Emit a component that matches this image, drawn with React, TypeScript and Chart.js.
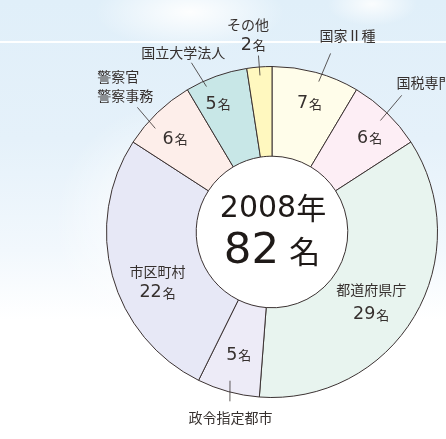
import React, { useEffect, useRef } from "react";
import { Chart, registerables } from "chart.js";

Chart.register(...registerables);

// ---- data ----
const categories = ["国家Ⅱ種", "国税専門官", "都道府県庁", "政令指定都市", "市区町村", "警察官\n警察事務", "国立大学法人", "その他"];
const values = [7, 6, 29, 5, 22, 6, 5, 2];
const yearLabel = "2008";
const totalLabel = "82";
const unit = "名";

// ---- style ----
const colors = ["#fffdea", "#fdeef5", "#e8f4ef", "#edebf7", "#e7e8f6", "#fdeeea", "#c8e7e7", "#fff8bf"];
const borderColor = "#3b3232";
const textColor = "#36302e";
const centerColor = "#1f1a18";
const CJK = '"Noto Sans CJK JP", sans-serif';
const NUM = '"DejaVu Sans", sans-serif';

// per-segment label layout (polar offsets relative to each arc's mid angle, radius in px at R=166)
type Item = { kind: "name" | "value"; r: number; da: number; dy?: number; align?: "center" | "left" };
type Layout = { items: Item[]; line?: [number, number, number, number] };
const layouts: Layout[] = [
  { items: [{ kind: "value", r: 136, da: 0.7 }, { kind: "name", r: 211, da: 5.7 }], line: [158, 1.9, 188.5, 2.8] },
  { items: [{ kind: "value", r: 137, da: 1.7 }, { kind: "name", r: 195, da: -4.1, align: "left" }], line: [156, 0.3, 189, -0.4] },
  { items: [{ kind: "name", r: 121, da: 4, dy: -11 }, { kind: "value", r: 121, da: 4, dy: 12 }] },
  { items: [{ kind: "value", r: 126, da: 0 }, { kind: "name", r: 191, da: -2.8 }], line: [155, 0.4, 175, -1.4] },
  { items: [{ kind: "name", r: 125, da: -8, dy: -9.5 }, { kind: "value", r: 125, da: -8, dy: 9.5 }] },
  { items: [{ kind: "value", r: 136, da: -1.7 }, { kind: "name", r: 228, da: -6.3, align: "left" }], line: [156.5, -4.5, 184, -3.3] },
  { items: [{ kind: "value", r: 141, da: -2.8 }, { kind: "name", r: 201, da: -6.5 }], line: [160, -4.5, 188, -5.7] },
  { items: [{ kind: "name", r: 209, da: -2.2 }, { kind: "value", r: 190, da: -1.3 }], line: [157.5, 0, 177.5, 0] },
];

function drawValue(ctx: CanvasRenderingContext2D, v: number, x: number, y: number) {
  const numFont = `17.5px ${NUM}`;
  const unitFont = `13px ${CJK}`;
  ctx.font = numFont;
  const w1 = ctx.measureText(String(v)).width;
  ctx.font = unitFont;
  const w2 = ctx.measureText(unit).width;
  const gap = 1;
  const x0 = x - (w1 + gap + w2) / 2;
  const base = y + 6.4;
  ctx.textAlign = "left";
  ctx.textBaseline = "alphabetic";
  ctx.font = numFont;
  ctx.fillText(String(v), x0, base);
  ctx.font = unitFont;
  ctx.fillText(unit, x0 + w1 + gap, base + 0.5);
}

const labelPlugin = {
  id: "labels",
  beforeDatasetsDraw(chart: any) {
    const arc = chart.getDatasetMeta(0).data[0];
    if (!arc) return;
    const { x, y, innerRadius } = arc.getProps(["x", "y", "innerRadius"], true);
    const ctx = chart.ctx;
    ctx.save();
    ctx.beginPath();
    ctx.arc(x, y, innerRadius, 0, Math.PI * 2);
    ctx.fillStyle = "#ffffff";
    ctx.fill();
    ctx.restore();
  },
  afterDatasetsDraw(chart: any) {
    const ctx: CanvasRenderingContext2D = chart.ctx;
    const arcs = chart.getDatasetMeta(0).data;
    if (!arcs.length) return;
    const p0 = arcs[0].getProps(["x", "y", "outerRadius", "innerRadius"], true);
    const cx = p0.x, cy = p0.y;
    const k = p0.outerRadius / 166;
    const pt = (aDeg: number, r: number) => {
      const a = (aDeg * Math.PI) / 180;
      return [cx + r * k * Math.sin(a), cy - r * k * Math.cos(a)];
    };
    ctx.save();
    ctx.fillStyle = textColor;
    ctx.strokeStyle = textColor;
    arcs.forEach((arc: any, i: number) => {
      const { startAngle, endAngle } = arc.getProps(["startAngle", "endAngle"], true);
      const mid = (((startAngle + endAngle) / 2) * 180) / Math.PI + 90;
      const lay = layouts[i];
      if (lay.line) {
        const [r1, d1, r2, d2] = lay.line;
        const [x1, y1] = pt(mid + d1, r1);
        const [x2, y2] = pt(mid + d2, r2);
        ctx.beginPath();
        ctx.lineWidth = 0.8;
        ctx.moveTo(x1, y1);
        ctx.lineTo(x2, y2);
        ctx.stroke();
      }
      lay.items.forEach((it) => {
        const [px, py0] = pt(mid + it.da, it.r);
        const py = py0 + (it.dy || 0);
        if (it.kind === "value") {
          drawValue(ctx, values[i], px, py);
        } else {
          const lines = categories[i].split("\n");
          ctx.font = `14px ${CJK}`;
          ctx.textAlign = it.align === "left" ? "left" : "center";
          ctx.textBaseline = "middle";
          const lh = 19;
          lines.forEach((ln, j) => {
            ctx.fillText(ln, px, py + (j - (lines.length - 1) / 2) * lh);
          });
        }
      });
    });
    // center text
    ctx.fillStyle = centerColor;
    ctx.textBaseline = "alphabetic";
    ctx.textAlign = "left";
    ctx.font = `30px ${NUM}`;
    const wy = ctx.measureText(yearLabel).width;
    ctx.font = `30px ${CJK}`;
    const wn = ctx.measureText("年").width;
    let sx = cx + 1 - (wy + wn) / 2;
    ctx.font = `30px ${NUM}`;
    ctx.fillText(yearLabel, sx, cy - 15);
    ctx.font = `30px ${CJK}`;
    ctx.fillText("年", sx + wy, cy - 13);
    ctx.font = `43.5px ${NUM}`;
    const wt = ctx.measureText(totalLabel).width;
    ctx.font = `31px ${CJK}`;
    const wu = ctx.measureText(unit).width;
    const gap = 10;
    sx = cx - (wt + gap + wu) / 2;
    ctx.font = `43.5px ${NUM}`;
    ctx.fillText(totalLabel, sx, cy + 31);
    ctx.font = `31px ${CJK}`;
    ctx.fillText(unit, sx + wt + gap, cy + 31);
    ctx.restore();
  },
};

export default function App() {
  const ref = useRef<HTMLCanvasElement>(null);
  useEffect(() => {
    document.body.style.margin = "0";
    const chart = new Chart(ref.current as HTMLCanvasElement, {
      type: "doughnut",
      data: {
        labels: categories,
        datasets: [
          {
            data: values,
            backgroundColor: colors,
            borderColor: borderColor,
            borderWidth: 1,
          },
        ],
      },
      options: {
        animation: false,
        responsive: false,
        maintainAspectRatio: false,
        cutout: "45.8%",
        layout: { padding: { left: 106, right: 8, top: 66, bottom: 41 } },
        plugins: { legend: { display: false }, tooltip: { enabled: false } },
        events: [],
      },
      plugins: [labelPlugin],
    } as any);
    return () => chart.destroy();
  }, []);
  return (
    <div
      style={{
        position: "relative",
        width: 446,
        height: 439,
        overflow: "hidden",
        background: [
          "radial-gradient(ellipse 95px 38px at 190px 12px, rgba(255,255,255,0.95), rgba(255,255,255,0))",
          "radial-gradient(ellipse 45px 22px at 372px 4px, rgba(255,255,255,0.85), rgba(255,255,255,0))",
          "radial-gradient(ellipse 110px 120px at 165px 225px, rgba(255,255,255,1), rgba(255,255,255,0))",
          "linear-gradient(to bottom, #e0eff9 0px, #e5f1fa 140px, #f2f8fd 250px, #ffffff 320px)",
        ].join(","),
      }}
    >
      <div style={{ position: "absolute", left: 0, top: 41, width: 446, height: 1.5, background: "rgba(255,255,255,0.95)" }} />
      <canvas ref={ref} width={446} height={439} style={{ position: "absolute", left: 0, top: 0 }} />
    </div>
  );
}
